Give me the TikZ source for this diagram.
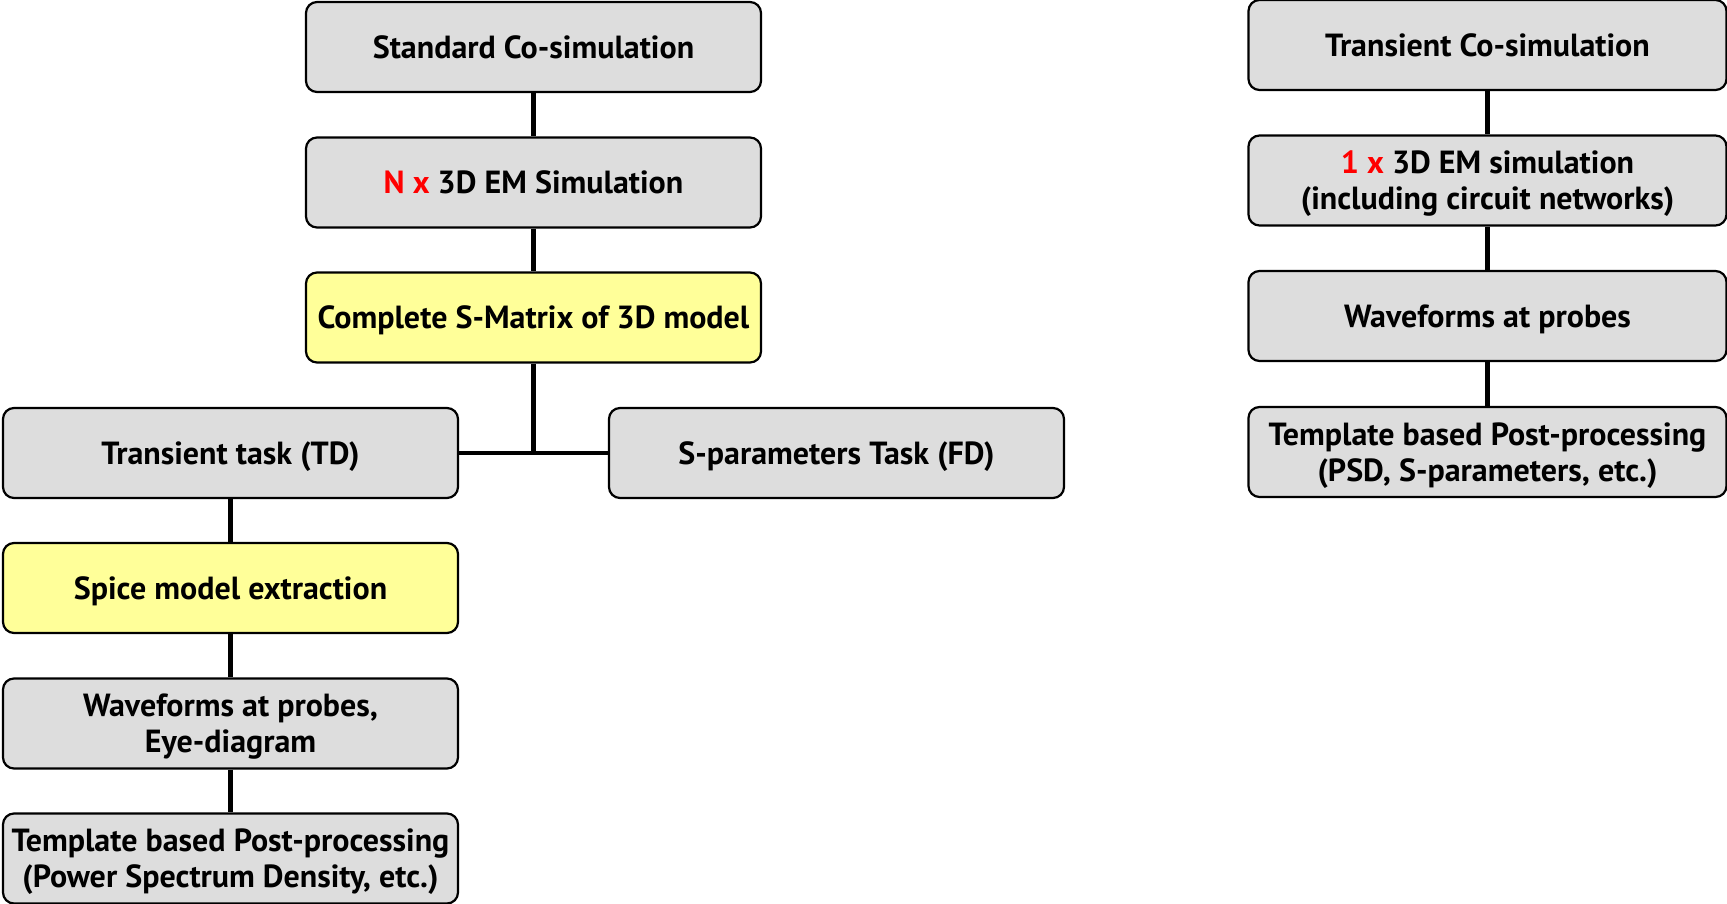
\documentclass[tikz,border=0pt]{standalone}
\usepackage{fontspec}
\setmainfont{PT Sans}
\definecolor{boxgray}{HTML}{DDDDDD}
\definecolor{boxyellow}{HTML}{FFFF99}
\definecolor{hl}{HTML}{FF0000}
\tikzset{
  box/.style={draw=black, line width=2.2pt, rounded corners=11pt, fill=boxgray,
    minimum width=455pt, minimum height=90pt, align=center, inner sep=0pt,
    text depth=0pt,
    font=\fontsize{32}{36}\selectfont\bfseries},
  wide/.style={box, minimum width=478pt},
  ybox/.style={box, fill=boxyellow},
  link/.style={line width=4.5pt, draw=black}
}
\begin{document}
\begin{tikzpicture}[x=1pt,y=-1pt]
\useasboundingbox (0,0) rectangle (1727,904);
% middle column
\node[box] (std) at (533.5,47) {Standard Co-simulation};
\node[box] (nem) at (533.5,182.5) {\textcolor{hl}{N x} 3D EM Simulation};
\node[ybox] (smat) at (533.5,317.5) {Complete S-Matrix of 3D model};
% left column
\node[box] (tt) at (230.5,453) {Transient task (TD)};
\node[box] (sp) at (836.5,453) {S-parameters Task (FD)};
\node[ybox] (spice) at (230.5,588) {Spice model extraction};
\node[box] (wf) at (230.5,723.5) {Waveforms at probes,\\Eye-diagram};
\node[box] (tpl) at (230.5,858.5) {Template based Post-processing\\(Power Spectrum Density, etc.)};
% right column
\node[wide] (tcs) at (1487.5,45) {Transient Co-simulation};
\node[wide] (oem) at (1487.5,180.5) {\textcolor{hl}{1 x} 3D EM simulation\\(including circuit networks)};
\node[wide] (wfr) at (1487.5,316) {Waveforms at probes};
\node[wide] (tplr) at (1487.5,452) {Template based Post-processing\\(PSD, S-parameters, etc.)};
% connectors
\draw[link] (std.south) -- (nem.north);
\draw[link] (nem.south) -- (smat.north);
\coordinate (j) at (smat.south |- tt.east);
\draw[link] (smat.south) -- (j);
\draw[link] (tt.east) -- (sp.west);
\draw[link] (tt.south) -- (spice.north);
\draw[link] (spice.south) -- (wf.north);
\draw[link] (wf.south) -- (tpl.north);
\draw[link] (tcs.south) -- (oem.north);
\draw[link] (oem.south) -- (wfr.north);
\draw[link] (wfr.south) -- (tplr.north);
\end{tikzpicture}
\end{document}
